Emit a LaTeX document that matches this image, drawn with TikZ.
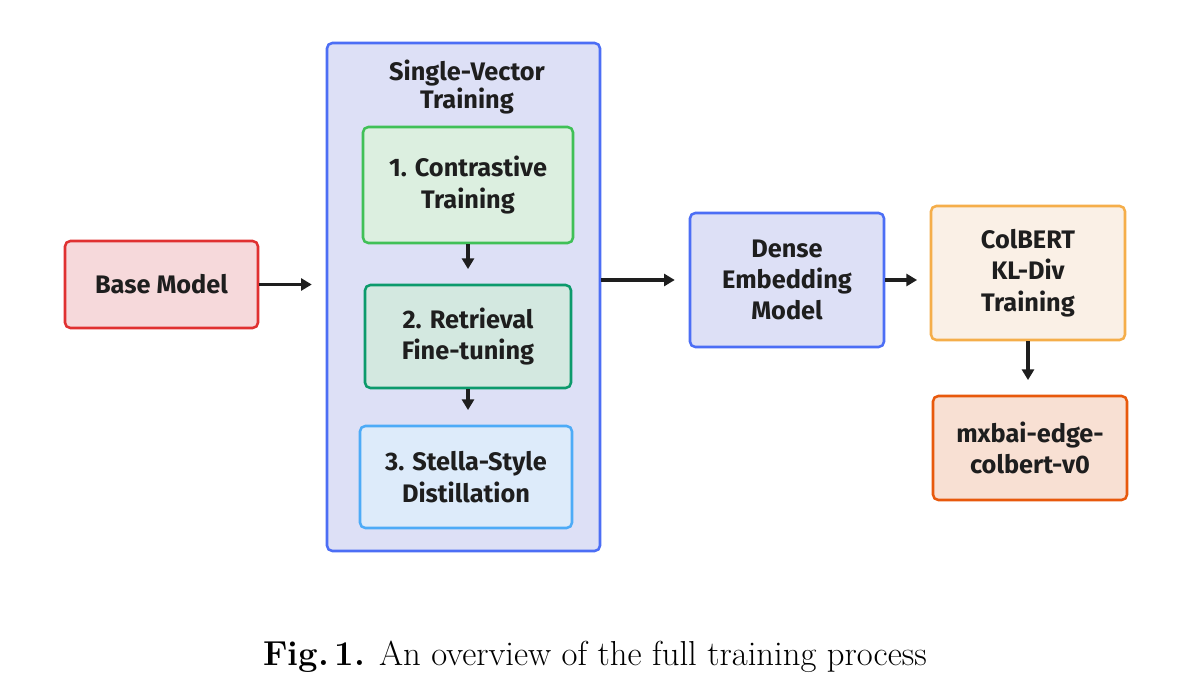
\documentclass[tikz,border=0pt]{standalone}
\usepackage{fontspec}
\newfontfamily\handfont{Fira Sans}
\usetikzlibrary{arrows.meta}
\definecolor{redB}{HTML}{E03131}\definecolor{redF}{HTML}{F6D9DB}
\definecolor{bluB}{HTML}{4C6EF5}\definecolor{bluF}{HTML}{DDE0F6}
\definecolor{grnB}{HTML}{40C057}\definecolor{grnF}{HTML}{DCEFE0}
\definecolor{tealB}{HTML}{0C9A6C}\definecolor{tealF}{HTML}{D3E8E0}
\definecolor{lbB}{HTML}{4DABF7}\definecolor{lbF}{HTML}{DDEBFA}
\definecolor{orB}{HTML}{F5AE4A}\definecolor{orF}{HTML}{FAF0E6}
\definecolor{dorB}{HTML}{E8590C}\definecolor{dorF}{HTML}{F8E0D3}
\definecolor{ink}{HTML}{1E1E1E}
\tikzset{
  box/.style={draw, line width=1.9pt, rounded corners=4pt, align=center,
    font=\handfont\bfseries\fontsize{19}{23.5}\selectfont, text=ink, inner sep=0pt},
  arr/.style={draw=ink, line width=2.6pt, -{Triangle[length=8pt,width=9pt]}}
}
\begin{document}
\begin{tikzpicture}[x=0.75pt,y=-0.75pt]
\useasboundingbox[fill=white] (0,0) rectangle (1200,695);
\node[box, draw=redB, fill=redF, minimum width=144.75pt, minimum height=65.25pt] (base) at (161.5,284.5) {Base Model};
\node[box, draw=bluB, fill=bluF, minimum width=204.75pt, minimum height=381pt] (outer) at (463.5,297) {};
\node[font=\handfont\bfseries\fontsize{19}{21.5}\selectfont, text=ink, align=center] (title) at (467,87) {Single-Vector\\Training};
\node[box, draw=grnB, fill=grnF, minimum width=157.5pt, minimum height=87pt] (b1) at (468,185) {1. Contrastive\\Training};
\node[box, draw=tealB, fill=tealF, minimum width=154.5pt, minimum height=77.25pt] (b2) at (468,336.5) {2. Retrieval\\Fine-tuning};
\node[box, draw=lbB, fill=lbF, minimum width=159pt, minimum height=76.5pt] (b3) at (466,477) {3. Stella-Style\\Distillation};
\node[box, draw=bluB, fill=bluF, minimum width=145.5pt, minimum height=100.5pt] (dense) at (787,280) {Dense\\Embedding\\Model};
\node[box, draw=orB, fill=orF, minimum width=145.5pt, minimum height=100.5pt] (colbert) at (1028,273) {ColBERT\\KL-Div\\Training};
\node[box, draw=dorB, fill=dorF, minimum width=145.5pt, minimum height=78pt] (mxbai) at (1030,448) {mxbai-edge-\\colbert-v0};
\draw[arr, shorten >=10.5pt] (base.east) -- (outer.west |- base.east);
\draw[arr, shorten >=11pt] (b1.south) -- (b1.south |- b2.north);
\draw[arr, shorten >=11pt] (b2.south) -- (b2.south |- b3.north);
\draw[arr, shorten >=10.5pt] (outer.east |- dense.west) -- (dense.west);
\draw[arr, shorten >=9.5pt] (dense.east) -- (dense.east -| colbert.west);
\draw[arr, shorten >=11pt] (colbert.south) -- (colbert.south |- mxbai.north);
\node[font=\fontsize{26}{31}\selectfont, anchor=base] (cap) at (595,665) {\textbf{Fig.\,1.} An overview of the full training process};
\end{tikzpicture}
\end{document}
